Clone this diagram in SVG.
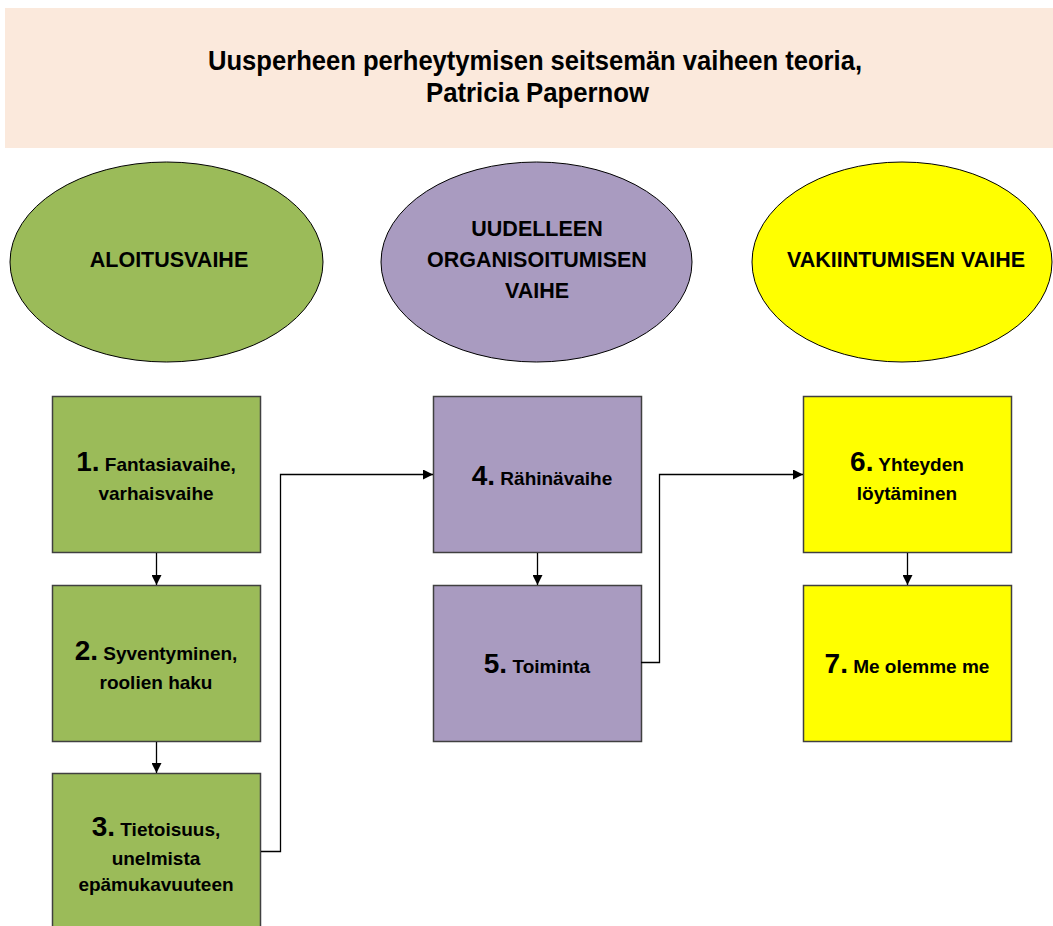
<svg xmlns="http://www.w3.org/2000/svg" width="1053" height="926" viewBox="0 0 1053 926">
<style>
text{font-family:"Liberation Sans",Arial,sans-serif;font-weight:bold;fill:#000;text-anchor:middle}
.title{font-size:28px}
.el{stroke:#000;stroke-width:1}
.head{font-size:21.5px}
.box{stroke:#404040;stroke-width:1.5}
.num{font-size:28px}
.lbl{font-size:19px}
.con{fill:none;stroke:#000;stroke-width:1.3}
.g{fill:#9bbb59}.p{fill:#a99bc0}.y{fill:#ffff00}
</style>
<defs>
<marker id="ah" viewBox="0 0 10 10" refX="10" refY="5" markerWidth="10" markerHeight="10" markerUnits="userSpaceOnUse" orient="auto">
<path d="M0,0 L10,5 L0,10 z" fill="#000"/>
</marker>
</defs>
<rect width="1053" height="926" fill="#fff"/>
<g id="title">
<rect x="5" y="8" width="1050" height="140" fill="#fbe9dc"/>
<text class="title" x="535" y="70" textLength="654" lengthAdjust="spacingAndGlyphs">Uusperheen perheytymisen seitsemän vaiheen teoria,</text>
<text class="title" x="537.5" y="102" textLength="223" lengthAdjust="spacingAndGlyphs">Patricia Papernow</text>
</g>
<g id="phase1">
<ellipse class="el g" cx="166.5" cy="262" rx="156.5" ry="100"/>
<text class="head" x="169" y="267">ALOITUSVAIHE</text>
</g>
<g id="phase2">
<ellipse class="el p" cx="536.5" cy="262" rx="155.5" ry="100"/>
<text class="head" x="537" y="236">UUDELLEEN</text>
<text class="head" x="537" y="267">ORGANISOITUMISEN</text>
<text class="head" x="537" y="298">VAIHE</text>
</g>
<g id="phase3">
<ellipse class="el y" cx="902" cy="262" rx="150" ry="100"/>
<text class="head" x="906" y="267">VAKIINTUMISEN VAIHE</text>
</g>
<g id="step1">
<rect class="box g" x="52.5" y="396.5" width="208" height="156"/>
<text x="156" y="471"><tspan class="num">1.</tspan><tspan class="lbl"> Fantasiavaihe,</tspan></text>
<text class="lbl" x="156" y="500">varhaisvaihe</text>
</g>
<g id="step2">
<rect class="box g" x="52.5" y="585.5" width="208" height="156"/>
<text x="156" y="660"><tspan class="num">2.</tspan><tspan class="lbl"> Syventyminen,</tspan></text>
<text class="lbl" x="156" y="689">roolien haku</text>
</g>
<g id="step3">
<rect class="box g" x="52.5" y="773.5" width="208" height="160"/>
<text x="156" y="836"><tspan class="num">3.</tspan><tspan class="lbl"> Tietoisuus,</tspan></text>
<text class="lbl" x="156" y="865">unelmista</text>
<text class="lbl" x="156" y="891">epämukavuuteen</text>
</g>
<g id="step4">
<rect class="box p" x="433.5" y="396.5" width="208" height="156"/>
<text x="542" y="485"><tspan class="num">4.</tspan><tspan class="lbl"> Rähinävaihe</tspan></text>
</g>
<g id="step5">
<rect class="box p" x="433.5" y="585.5" width="208" height="156"/>
<text x="537" y="673"><tspan class="num">5.</tspan><tspan class="lbl"> Toiminta</tspan></text>
</g>
<g id="step6">
<rect class="box y" x="803.5" y="396.5" width="208" height="156"/>
<text x="907" y="471"><tspan class="num">6.</tspan><tspan class="lbl"> Yhteyden</tspan></text>
<text class="lbl" x="907" y="500">löytäminen</text>
</g>
<g id="step7">
<rect class="box y" x="803.5" y="585.5" width="208" height="156"/>
<text x="907" y="673"><tspan class="num">7.</tspan><tspan class="lbl"> Me olemme me</tspan></text>
</g>
<g id="connectors">
<path class="con" d="M156.5,553 V585" marker-end="url(#ah)"/>
<path class="con" d="M156.5,742 V773" marker-end="url(#ah)"/>
<path class="con" d="M261,851.5 H280.5 V474.5 H433" marker-end="url(#ah)"/>
<path class="con" d="M537.5,553 V585" marker-end="url(#ah)"/>
<path class="con" d="M641,662.5 H659.5 V474.5 H803" marker-end="url(#ah)"/>
<path class="con" d="M907.5,553 V585" marker-end="url(#ah)"/>
</g>
</svg>
